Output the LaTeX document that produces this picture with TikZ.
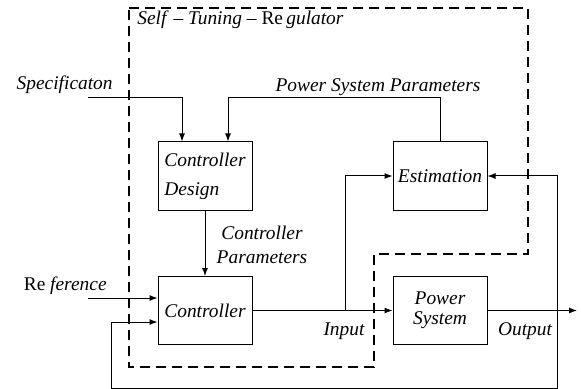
\documentclass[tikz,border=0pt]{standalone}
\usepackage{fontspec}
\setmainfont{Liberation Serif}
\usetikzlibrary{arrows.meta}

\tikzset{
  blk/.style={draw, line width=0.5pt, minimum width=47pt, minimum height=34pt, inner sep=0pt, font=\itshape},
  lbl/.style={inner sep=0pt, font=\itshape},
  sig/.style={line width=0.5pt, -{Latex[length=4pt,width=3pt]}},
  bound/.style={line width=1pt, dash pattern=on 5pt off 3pt}
}

\begin{document}
\begin{tikzpicture}[x=0.5pt, y=-0.5pt]
  \fontsize{9.7}{12}\selectfont
  \useasboundingbox (0,0) rectangle (581,389);

  % Blocks
  \node[blk, align=left] (design) at (205,176) {Controller\\[2.5pt]Design};
  \node[blk] (ctrl) at (205,310.5) {Controller};
  \node[blk] (est) at (440,176) {Estimation};
  \node[blk, align=center] (plant) at (440,310.5) {Power\\[-2pt]System};

  % free ends
  \coordinate (specin) at (88,98);
  \coordinate (refin) at (88,298);
  \coordinate (tap) at (345,310.5);
  \coordinate (out) at (577,310.5);
  \coordinate (fbl) at (111,388);
  \coordinate (fbr) at (557,388);

  % Self-tuning regulator boundary
  \draw[bound] (129,8) -- (528,8) -- (528,254) -- (374,254) -- (374,367) -- (129,367) -- cycle;

  % Signals
  \draw[sig] (specin) -| ([xshift=-11.5pt]design.north);
  \draw[sig] (est.north) -- (est.north |- specin) -| ([xshift=11.5pt]design.north);
  \draw[sig] (design.south) -- (ctrl.north);
  \draw[sig] (refin) -- (refin -| ctrl.west);
  \draw[sig] (ctrl.east) -- (plant.west);
  \draw[sig] (tap) |- (est.west);
  \draw[sig] (plant.east) -- (out);
  \draw[sig, {Latex[length=4pt,width=3pt]}-{Latex[length=4pt,width=3pt]}] (est.east) -| (fbr) -- (fbl) |- ([yshift=-5.75pt]ctrl.west);

  % Labels
  \node[lbl, anchor=west] (stitle) at (137,20) {Self \textup{--} Tuning \textup{--} \textup{Re}\,gulator};
  \node[lbl, anchor=east] (speclbl) at (113,85) {Specificaton};
  \node[lbl] (parlbl) at (378,87) {Power System Parameters};
  \node[lbl, align=center] (cparlbl) at (262,245) {Controller\\Parameters};
  \node[lbl, anchor=east] (reflbl) at (107,286) {\textup{Re} ference};
  \node[lbl] (inlbl) at (344,331) {Input};
  \node[lbl] (outlbl) at (525,331) {Output};
\end{tikzpicture}
\end{document}
